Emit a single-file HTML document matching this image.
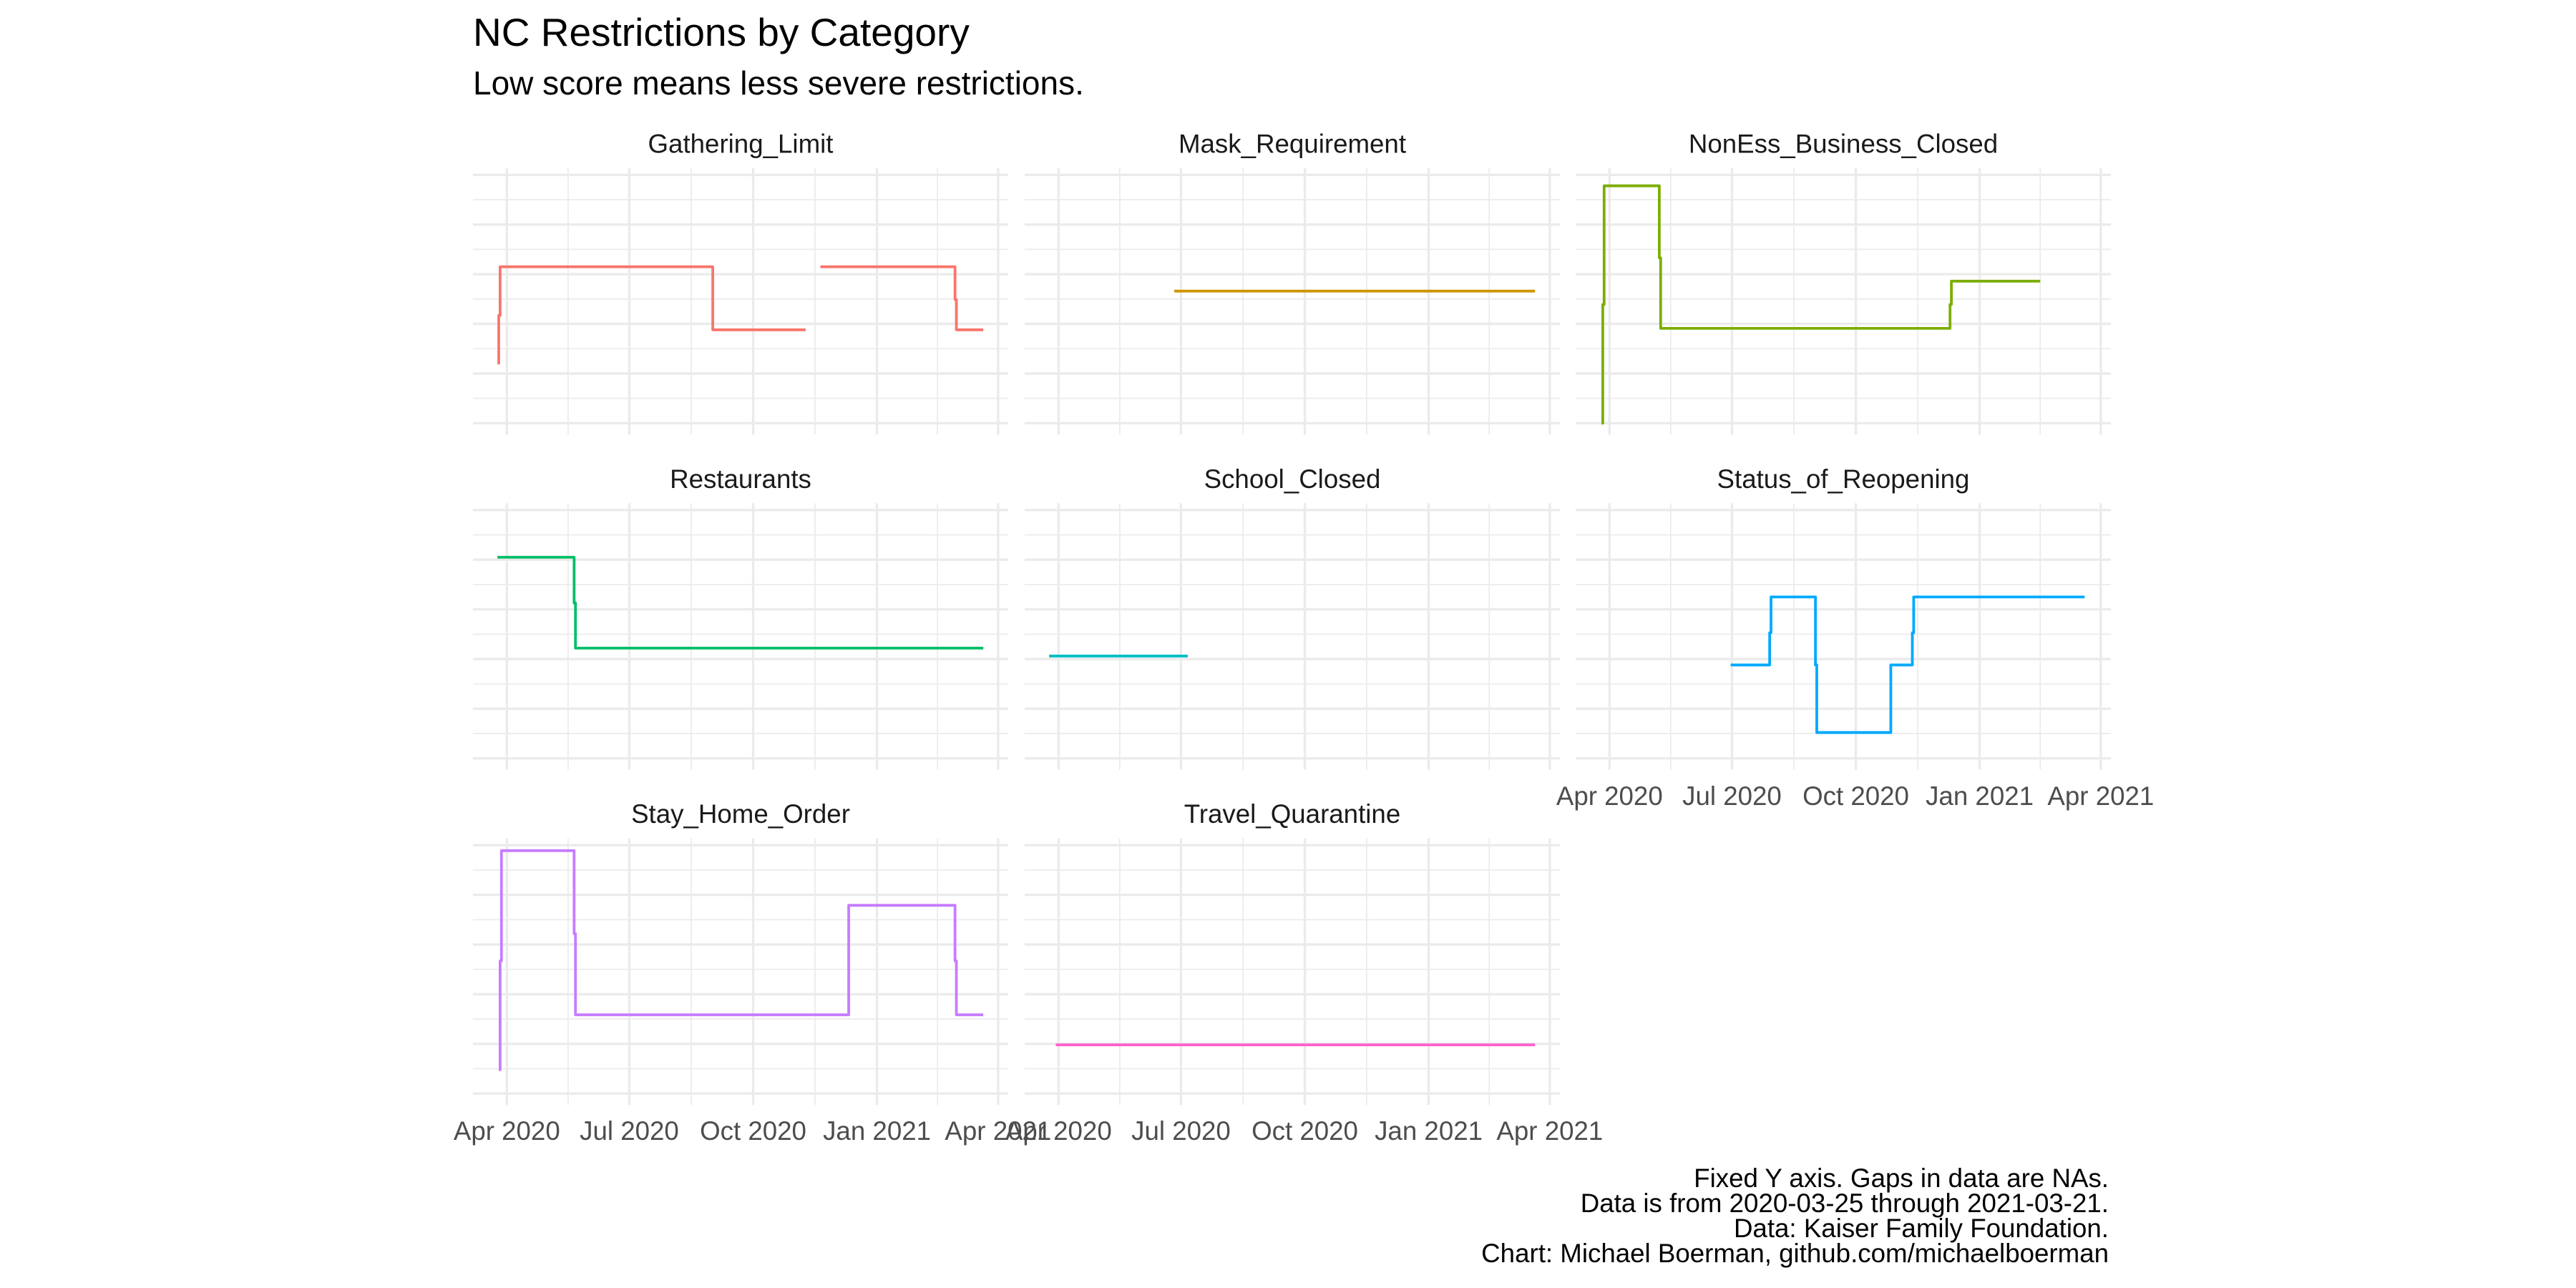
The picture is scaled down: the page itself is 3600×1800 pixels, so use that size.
<!DOCTYPE html>
<html><head><meta charset="utf-8">
<style>
html,body{margin:0;padding:0;background:#fff;}
svg{display:block;font-family:"Liberation Sans",Arial,sans-serif;}
</style></head>
<body>
<svg id="chart" width="3600" height="1800" viewBox="0 0 3600 1800" xmlns="http://www.w3.org/2000/svg">
<rect width="3600" height="1800" fill="#fff"/>
<text x="661" y="64" font-size="55" fill="#000">NC Restrictions by Category</text>
<text x="661" y="132" font-size="46" fill="#000">Low score means less severe restrictions.</text>
<g font-size="36.7" fill="#000" text-anchor="end">
<text x="2947" y="1659">Fixed Y axis. Gaps in data are NAs.</text>
<text x="2947" y="1694">Data is from 2020-03-25 through 2021-03-21.</text>
<text x="2947" y="1729">Data: Kaiser Family Foundation.</text>
<text x="2947" y="1764">Chart: Michael Boerman, github.com/michaelboerman</text>
</g>
<g id="panels"></g>
</svg>
<script>
const categories = ["Gathering_Limit","Mask_Requirement","NonEss_Business_Closed","Restaurants","School_Closed","Status_of_Reopening","Stay_Home_Order","Travel_Quarantine"];
const colors = ["#F8766D","#CD9600","#7CAE00","#00BE67","#00BFC4","#00A9FF","#C77CFF","#FF61CC"];
const gatheringDates = ["2020-03-25","2020-03-26","2020-03-27","2020-09-01","2020-11-09","2020-11-10","2020-11-20","2021-02-28","2021-03-01","2021-03-21"];
const gatheringValues = [1.21,2.17,3.15,1.88,1.88,null,3.15,2.49,1.88,1.88];
const maskDates = ["2020-06-26","2021-03-21"];
const maskValues = [2.66,2.66];
const nonEssDates = ["2020-03-26","2020-03-27","2020-03-28","2020-05-08","2020-05-09","2020-12-10","2020-12-11","2021-02-15"];
const nonEssValues = [0,2.39,4.78,3.33,1.91,2.39,2.86,2.86];
const restaurantDates = ["2020-03-25","2020-05-21","2020-05-22","2021-03-21"];
const restaurantValues = [4.05,3.13,2.22,2.22];
const schoolDates = ["2020-03-25","2020-07-06"];
const schoolValues = [2.06,2.06];
const statusDates = ["2020-06-30","2020-07-29","2020-07-30","2020-09-01","2020-09-02","2020-10-27","2020-11-12","2020-11-13","2021-03-20"];
const statusValues = [1.88,2.53,3.25,1.88,0.52,1.88,2.53,3.25,3.25];
const stayHomeDates = ["2020-03-26","2020-03-27","2020-03-28","2020-05-21","2020-05-22","2020-12-11","2021-02-28","2021-03-01","2021-03-21"];
const stayHomeValues = [0.48,2.67,4.89,3.22,1.585,3.79,2.67,1.585,1.585];
const travelDates = ["2020-03-30","2021-03-21"];
const travelValues = [0.98,0.98];
const majorTickDates = ["2020-04-01","2020-07-01","2020-10-01","2021-01-01","2021-04-01"];
const tickLabels = ["Apr 2020","Jul 2020","Oct 2020","Jan 2021","Apr 2021"];
const yMajor = [0,1,2,3,4,5];

const seriesDates = [gatheringDates,maskDates,nonEssDates,restaurantDates,schoolDates,statusDates,stayHomeDates,travelDates];
const seriesValues = [gatheringValues,maskValues,nonEssValues,restaurantValues,schoolValues,statusValues,stayHomeValues,travelValues];

const NS = "http://www.w3.org/2000/svg";
const DAY = 86400000;
const t0 = Date.UTC(2020,3,1);
const pxPerDay = 1.881;
const colLeft = [661,1432,2202];
const panelW = 748;
const rowGridTop = [244.4,712.8,1181.2];
const unitPx = 69.4;
function dnum(s){const p=s.split("-");return (Date.UTC(+p[0],+p[1]-1,+p[2])-t0)/DAY;}
function xScale(col,s){return colLeft[col]+47.3+dnum(s)*pxPerDay;}
function yScale(row,v){return rowGridTop[row]+5*unitPx-v*unitPx;}
function mk(tag,attrs,parent){const e=document.createElementNS(NS,tag);for(const k in attrs)e.setAttribute(k,attrs[k]);parent.appendChild(e);return e;}
const root=document.getElementById("panels");

const axisPanels=[5,6,7];
for(let i=0;i<categories.length;i++){
  const row=Math.floor(i/3), col=i%3;
  const g=mk("g",{},root);
  
  
  const L=colLeft[col], R=L+panelW, top=rowGridTop[row]-9.6, bot=rowGridTop[row]+5*unitPx+16;
  // horizontal grid
  for(let k=0;k<=10;k++){
    const v=k/2;
    const ln=mk("line",{x1:L,x2:R,y1:yScale(row,v),y2:yScale(row,v),stroke:"#ebebeb","stroke-width":(k%2===0)?3.4:1.7},g);
    
    
  }
  // vertical grid
  for(let k=0;k<majorTickDates.length;k++){
    const x=xScale(col,majorTickDates[k]);
    const ln=mk("line",{x1:x,x2:x,y1:top,y2:bot,stroke:"#ebebeb","stroke-width":3.4},g);
    
    
    if(k<majorTickDates.length-1){
      const xm=(x+xScale(col,majorTickDates[k+1]))/2;
      const lm=mk("line",{x1:xm,x2:xm,y1:top,y2:bot,stroke:"#ebebeb","stroke-width":1.7},g);
      
      
    }
  }
  // strip title
  const st=mk("text",{x:(L+R)/2,y:rowGridTop[row]-31,"font-size":36.7,fill:"#1a1a1a","text-anchor":"middle"},g);
  
  
  st.textContent=categories[i];
  // step line
  const ds=seriesDates[i], vs=seriesValues[i];
  let d="", pen=false, prevY=null;
  for(let j=0;j<ds.length;j++){
    if(vs[j]===null){pen=false;continue;}
    const x=xScale(col,ds[j]), y=yScale(row,vs[j]);
    if(!pen){d+="M"+x+" "+y;pen=true;}
    else{d+="L"+x+" "+prevY+"L"+x+" "+y;}
    prevY=y;
    // if next is null, stop
  }
  const p=mk("path",{d:d,fill:"none",stroke:colors[i],"stroke-width":3.8,"stroke-linejoin":"round"},g);
  
  
  // x axis labels
  if(axisPanels.includes(i)){
    for(let k=0;k<majorTickDates.length;k++){
      const tx=mk("text",{x:xScale(col,majorTickDates[k]),y:rowGridTop[row]+5*unitPx+65,"font-size":36.7,fill:"#4d4d4d","text-anchor":"middle"},g);
      
      
      tx.textContent=tickLabels[k];
    }
  }
}
</script>
</body></html>
